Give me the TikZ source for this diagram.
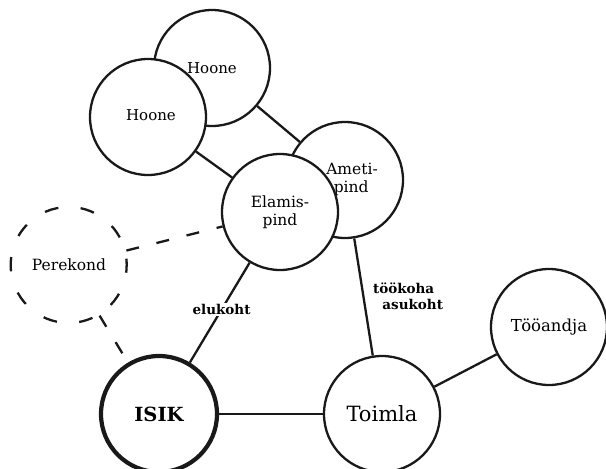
\documentclass[tikz,border=0pt]{standalone}
\usepackage{fontspec}
\setmainfont{DejaVu Serif}
\begin{document}
\begin{tikzpicture}[x=1pt,y=-1pt,
  ent/.style={circle, draw=black!90, fill=white, line width=2.3pt,
              minimum size=116pt, inner sep=0pt, align=center},
  keyent/.style={ent, line width=4.2pt, font=\bfseries\fontsize{19.5}{21}\selectfont},
  loose/.style={ent, draw=none, fill=none},
  link/.style={line width=2.3pt, draw=black!90},
  dashlink/.style={line width=2.3pt, draw=black!90, dash pattern=on 13pt off 18pt},
  dashring/.style={line width=2.3pt, draw=black!90, dash pattern=on 14pt off 22.4pt},
  lbl/.style={fill=white, inner sep=1.5pt, align=left,
              font=\bfseries\fontsize{13.5}{16}\selectfont}]
\useasboundingbox (0,0) rectangle (606,469);

% entities: later nodes are drawn on top of earlier ones
\node[ent] (hooneB) at (212,68) {};
\node[font=\fontsize{15}{17}\selectfont] (hooneBt) at (212,68) {Hoone};
\node[ent, font=\fontsize{15}{17}\selectfont] (hooneA) at (148,117) {};
\node[font=\fontsize{15}{17}\selectfont] (hooneAt) at (151,115) {Hoone};
\node[ent] (ameti) at (345,180) {};
\node[font=\fontsize{15.5}{18}\selectfont, align=left] (ametit) at (352,179) {Ameti-\\\ \,pind};
\node[ent, font=\fontsize{15.5}{18}\selectfont] (elamis) at (280,212) {Elamis-\\pind};
\node[loose, font=\fontsize{15.5}{17}\selectfont] (perekond) at (69,265) {Perekond};
\draw[dashring] (perekond.center) ++(-58pt,-6pt) arc[start angle=186, end angle=-174, radius=58pt];
\node[keyent] (isik) at (159,414) {ISIK};
\node[ent, font=\fontsize{21}{23}\selectfont] (toimla) at (382,414) {Toimla};
\node[ent, font=\fontsize{16.5}{18}\selectfont] (tooandja) at (549,327) {Tööandja};

% relationships
\draw[link] (hooneB) -- (ameti);
\draw[link] (hooneA) -- (elamis);
\draw[link] (elamis) -- node[lbl, pos=0.47] (elukoht) {elukoht} (isik);
\draw[link] (ameti) -- (toimla);
\node[lbl] (asukoht) at (408,296) {töökoha\\\ \ asukoht};
\draw[link] (isik) -- (toimla);
\draw[link] (toimla) -- (tooandja);
\draw[dashlink] (perekond) -- (elamis);
\draw[dashlink] (perekond) -- (isik);
\end{tikzpicture}
\end{document}
